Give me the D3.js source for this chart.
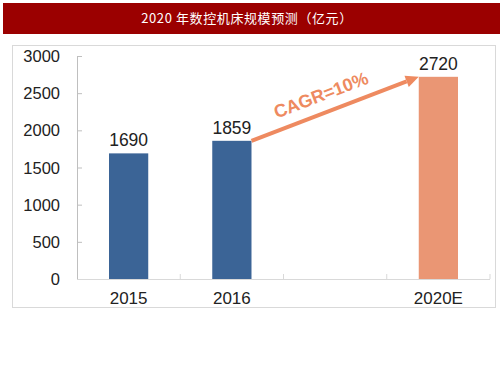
<!DOCTYPE html>
<html lang="zh">
<head>
  <meta charset="UTF-8">
  <title>2020 年数控机床规模预测</title>
  <script src="https://d3js.org/d3.v7.min.js"></script>
  <style>
    body { margin: 0; background: #fff; font-family: Arial, "Liberation Sans", sans-serif; }
    svg { display: block; }
  </style>
</head>
<body>
  <svg id="chart"></svg>
  <script>
    const categories = ["2015", "2016", "", "2020E"];
    const values = [1690, 1859, null, 2720];
    const barColors = ["#3b6496", "#3b6496", null, "#ea9674"];
    const yTicks = [0, 500, 1000, 1500, 2000, 2500, 3000];
    const title = "2020 年数控机床规模预测（亿元）";
    const cagrLabel = "CAGR=10%";

    const width = 503, height = 378;
    const svg = d3.select("#chart").attr("width", width).attr("height", height);

    // header bar
    svg.append("rect").attr("x", 3).attr("y", 3).attr("width", 497).attr("height", 31).attr("fill", "#9b0000");
    svg.append("text").attr("x", 247).attr("y", 23).attr("text-anchor", "middle")
      .attr("fill", "#fff").attr("font-size", 13).attr("letter-spacing", 0.6)
      .attr("font-family", "'Noto Sans CJK SC', sans-serif").text(title);

    // frame
    svg.append("rect").attr("x", 12.5).attr("y", 45.5).attr("width", 483).attr("height", 262)
      .attr("fill", "none").attr("stroke", "#d9d9d9");

    const margin = { left: 77, right: 490, top: 56, bottom: 279 };
    const x = d3.scaleBand().domain(d3.range(categories.length)).range([margin.left, margin.right]);
    const y = d3.scaleLinear().domain([0, 3000]).range([margin.bottom, margin.top]);
    const barW = x.bandwidth() * 0.38;

    // y axis
    const yAxis = svg.append("g").attr("transform", `translate(${margin.left},0)`)
      .call(d3.axisRight(y).tickValues(yTicks).tickSize(5).tickFormat(""));
    yAxis.selectAll("line, path").attr("stroke", "#bfbfbf");
    yAxis.select(".domain").attr("d", `M0.5,${margin.top}V${margin.bottom}`);
    svg.selectAll(".ylab").data(yTicks).join("text")
      .attr("x", 60).attr("y", d => y(d) + 6).attr("text-anchor", "end")
      .attr("font-size", 16.5).attr("fill", "#222").text(d => d);

    // x axis
    const xAxis = svg.append("g").attr("transform", `translate(0,${margin.bottom})`);
    xAxis.append("line").attr("x1", margin.left).attr("x2", margin.right)
      .attr("y1", 0.5).attr("y2", 0.5).attr("stroke", "#d9d9d9");
    xAxis.selectAll("line.tk").data(d3.range(categories.length)).join("line").attr("class", "tk")
      .attr("x1", d => x(d) + x.bandwidth()).attr("x2", d => x(d) + x.bandwidth())
      .attr("y1", 0).attr("y2", -5).attr("stroke", "#d9d9d9");
    xAxis.selectAll("text").data(categories).join("text")
      .attr("x", (d, i) => x(i) + x.bandwidth() / 2).attr("y", 25)
      .attr("text-anchor", "middle").attr("font-size", 17).attr("fill", "#222").text(d => d);

    // bars
    const data = values.map((v, i) => ({ i, v, c: barColors[i] })).filter(d => d.v != null);
    svg.selectAll("rect.bar").data(data).join("rect").attr("class", "bar")
      .attr("x", d => x(d.i) + (x.bandwidth() - barW) / 2).attr("width", barW)
      .attr("y", d => y(d.v)).attr("height", d => y(0) - y(d.v)).attr("fill", d => d.c);
    svg.selectAll("text.val").data(data).join("text").attr("class", "val")
      .attr("x", d => x(d.i) + x.bandwidth() / 2).attr("y", d => y(d.v) - 7)
      .attr("text-anchor", "middle").attr("font-size", 17.5).attr("fill", "#222").text(d => d.v);

    // CAGR arrow
    const x1 = x(1) + (x.bandwidth() + barW) / 2, y1 = y(values[1]);
    const x2 = x(3) + (x.bandwidth() - barW) / 2, y2 = y(values[3]);
    const ang = Math.atan2(y2 - y1, x2 - x1);
    const orange = "#ee8a60";
    const headLen = 13, headW = 6;
    const bx = x2 - headLen * Math.cos(ang), by = y2 - headLen * Math.sin(ang);
    svg.append("line").attr("x1", x1).attr("y1", y1).attr("x2", bx).attr("y2", by)
      .attr("stroke", orange).attr("stroke-width", 4);
    const px = -Math.sin(ang), py = Math.cos(ang);
    svg.append("path")
      .attr("d", `M${x2},${y2}L${bx + px * headW},${by + py * headW}L${bx - px * headW},${by - py * headW}Z`)
      .attr("fill", orange);
    const deg = ang * 180 / Math.PI;
    svg.append("text").attr("transform", `translate(${(x1 + x2) / 2 - 12},${(y1 + y2) / 2 - 8}) rotate(${deg})`)
      .attr("text-anchor", "middle").attr("font-size", 18).attr("font-weight", "bold")
      .attr("fill", orange).text(cagrLabel);
  </script>
</body>
</html>
